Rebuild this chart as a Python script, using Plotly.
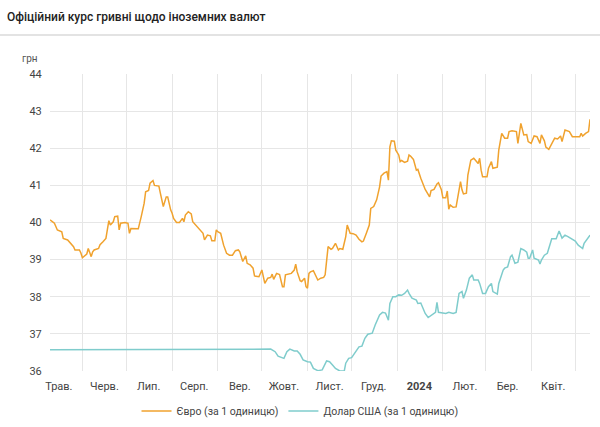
import plotly.graph_objects as go

# ---- data ----
eur_dates = [
 "2023-05-10","2023-05-13","2023-05-15","2023-05-18","2023-05-19","2023-05-22","2023-05-26","2023-05-27","2023-05-30","2023-05-31",
 "2023-06-01","2023-06-04","2023-06-05","2023-06-07","2023-06-08","2023-06-09","2023-06-12","2023-06-13","2023-06-15","2023-06-17",
 "2023-06-19","2023-06-20","2023-06-22","2023-06-23","2023-06-25","2023-06-26","2023-06-27","2023-06-30","2023-07-02","2023-07-03",
 "2023-07-04","2023-07-07","2023-07-09","2023-07-11","2023-07-13","2023-07-14","2023-07-16","2023-07-17","2023-07-19","2023-07-20",
 "2023-07-23","2023-07-24","2023-07-25","2023-07-26","2023-07-28","2023-07-29","2023-07-31","2023-08-01","2023-08-02","2023-08-04",
 "2023-08-06","2023-08-08","2023-08-09","2023-08-10","2023-08-12","2023-08-14","2023-08-15","2023-08-18","2023-08-20","2023-08-22",
 "2023-08-23","2023-08-25","2023-08-27","2023-08-28","2023-08-30","2023-08-31","2023-09-01","2023-09-03","2023-09-05","2023-09-07",
 "2023-09-09","2023-09-11","2023-09-13","2023-09-15","2023-09-16","2023-09-18","2023-09-20","2023-09-21","2023-09-23","2023-09-25",
 "2023-09-26","2023-09-29","2023-10-01","2023-10-03","2023-10-05","2023-10-07","2023-10-08","2023-10-09","2023-10-11","2023-10-13",
 "2023-10-15","2023-10-16","2023-10-17","2023-10-19","2023-10-21","2023-10-23","2023-10-24","2023-10-25","2023-10-27","2023-10-28",
 "2023-10-30","2023-10-31","2023-11-01","2023-11-02","2023-11-03","2023-11-05","2023-11-08","2023-11-10","2023-11-12","2023-11-13",
 "2023-11-15","2023-11-17","2023-11-18","2023-11-20","2023-11-22","2023-11-23","2023-11-25","2023-11-27","2023-11-28","2023-11-30",
 "2023-12-02","2023-12-04","2023-12-06","2023-12-08","2023-12-09","2023-12-11","2023-12-13","2023-12-14","2023-12-16","2023-12-18",
 "2023-12-20","2023-12-21","2023-12-23","2023-12-25","2023-12-26","2023-12-27","2023-12-28","2023-12-30","2023-12-31","2024-01-02",
 "2024-01-03","2024-01-04","2024-01-06","2024-01-08","2024-01-09","2024-01-10","2024-01-12","2024-01-14","2024-01-15","2024-01-17",
 "2024-01-19","2024-01-20","2024-01-23","2024-01-24","2024-01-26","2024-01-28","2024-01-29","2024-01-31","2024-02-01","2024-02-03",
 "2024-02-04","2024-02-05","2024-02-06","2024-02-08","2024-02-10","2024-02-11","2024-02-13","2024-02-14","2024-02-15","2024-02-17",
 "2024-02-18","2024-02-20","2024-02-22","2024-02-25","2024-02-26","2024-02-27","2024-02-28","2024-03-02","2024-03-03","2024-03-05",
 "2024-03-06","2024-03-09","2024-03-10","2024-03-12","2024-03-14","2024-03-16","2024-03-17","2024-03-19","2024-03-22","2024-03-23",
 "2024-03-24","2024-03-25","2024-03-27","2024-03-29","2024-03-30","2024-04-01","2024-04-03","2024-04-05","2024-04-07","2024-04-08",
 "2024-04-10","2024-04-11","2024-04-13","2024-04-15","2024-04-17","2024-04-19","2024-04-21","2024-04-22","2024-04-24","2024-04-27",
 "2024-04-29","2024-05-01","2024-05-04","2024-05-05","2024-05-06","2024-05-08","2024-05-10","2024-05-11",
]
eur_values = [
 40.07,39.98,39.80,39.75,39.57,39.53,39.35,39.26,39.26,39.18,
 39.05,39.15,39.30,39.08,39.21,39.26,39.30,39.40,39.48,39.57,
 40.05,39.93,40.02,40.16,40.17,39.80,39.98,40.00,39.98,39.71,
 39.84,39.84,39.83,40.16,40.52,40.83,40.86,41.06,41.13,41.00,
 40.98,40.79,40.56,40.43,40.69,40.69,40.34,40.25,40.11,40.00,
 40.00,40.11,40.02,40.20,40.29,40.23,40.02,39.89,39.82,39.71,
 39.53,39.66,39.64,39.51,39.51,39.80,39.75,39.71,39.39,39.17,
 39.12,39.12,39.24,39.26,39.21,38.95,39.10,38.90,38.86,38.77,
 38.56,38.54,38.72,38.36,38.50,38.52,38.61,38.47,38.63,38.60,
 38.27,38.27,38.59,38.62,38.63,38.72,38.88,38.67,38.43,38.41,
 38.50,38.27,38.23,38.63,38.67,38.70,38.45,38.50,38.52,38.59,
 39.35,39.28,39.30,39.44,39.26,39.30,39.28,39.62,39.93,39.71,
 39.70,39.66,39.55,39.48,39.50,39.71,39.93,40.38,40.43,40.61,
 40.96,41.25,41.33,41.37,41.14,42.04,42.20,42.19,41.95,41.82,
 41.64,41.67,41.62,41.65,41.82,41.79,41.70,41.41,41.43,41.19,
 41.00,40.89,40.69,40.86,40.89,41.04,41.07,40.88,40.67,40.67,
 40.85,40.36,40.47,40.41,40.42,40.65,41.10,40.88,40.77,40.79,
 41.28,41.68,41.73,41.59,41.73,41.41,41.23,41.23,41.46,41.64,
 41.46,41.49,41.95,42.40,42.27,42.27,42.45,42.47,42.45,42.13,
 42.40,42.67,42.36,42.37,42.18,42.13,42.33,42.31,42.13,42.36,
 42.20,42.03,41.97,42.13,42.27,42.25,42.33,42.18,42.49,42.45,
 42.31,42.31,42.31,42.40,42.33,42.40,42.45,42.78,
]

usd_dates = [
 "2023-05-10","2023-10-02","2023-10-07","2023-10-10","2023-10-12","2023-10-16","2023-10-18","2023-10-20","2023-10-23","2023-10-25",
 "2023-10-27","2023-10-29","2023-11-01","2023-11-03","2023-11-05","2023-11-08","2023-11-11","2023-11-14","2023-11-16","2023-11-18",
 "2023-11-20","2023-11-23","2023-11-26","2023-11-27","2023-11-29","2023-12-01","2023-12-04","2023-12-06","2023-12-08","2023-12-10",
 "2023-12-12","2023-12-15","2023-12-17","2023-12-20","2023-12-22","2023-12-24","2023-12-26","2023-12-27","2023-12-29","2023-12-31",
 "2024-01-02","2024-01-04","2024-01-06","2024-01-08","2024-01-09","2024-01-11","2024-01-14","2024-01-15","2024-01-17","2024-01-19",
 "2024-01-20","2024-01-22","2024-01-25","2024-01-27","2024-01-28","2024-01-29","2024-02-03","2024-02-05","2024-02-08","2024-02-10",
 "2024-02-12","2024-02-14","2024-02-15","2024-02-17","2024-02-19","2024-02-21","2024-02-22","2024-02-25","2024-02-26","2024-02-28",
 "2024-03-01","2024-03-03","2024-03-05","2024-03-06","2024-03-09","2024-03-10","2024-03-13","2024-03-14","2024-03-16","2024-03-18",
 "2024-03-19","2024-03-21","2024-03-23","2024-03-25","2024-03-27","2024-03-29","2024-03-30","2024-03-31","2024-04-02","2024-04-03",
 "2024-04-06","2024-04-07","2024-04-08","2024-04-10","2024-04-12","2024-04-14","2024-04-15","2024-04-18","2024-04-20","2024-04-22",
 "2024-04-24","2024-04-26","2024-04-28","2024-05-01","2024-05-03","2024-05-06","2024-05-07","2024-05-09","2024-05-11",
]
usd_values = [
 36.57,36.57,36.59,36.52,36.40,36.34,36.52,36.59,36.54,36.54,
 36.45,36.30,36.25,36.24,36.07,36.01,36.03,36.27,36.25,36.16,
 36.07,36.00,36.00,36.21,36.34,36.36,36.52,36.65,36.67,36.88,
 36.99,37.02,37.24,37.51,37.58,37.56,37.37,37.82,38.00,38.00,
 38.05,38.04,38.09,38.18,38.09,37.96,37.91,37.82,37.83,37.64,
 37.55,37.44,37.53,37.58,37.85,37.58,37.55,37.58,37.55,37.58,
 38.09,38.14,37.96,38.18,38.50,38.59,38.45,38.45,38.36,38.09,
 38.09,38.27,38.36,38.14,38.07,38.36,38.72,38.77,38.80,39.08,
 39.12,38.90,38.93,39.30,39.26,39.20,39.04,39.04,39.26,39.04,
 38.99,38.88,38.99,39.12,39.17,39.48,39.56,39.56,39.77,39.58,
 39.66,39.62,39.57,39.50,39.39,39.30,39.44,39.55,39.66,
]

month_starts = ["2023-06-01","2023-07-01","2023-08-01","2023-09-01","2023-10-01","2023-11-01",
                "2023-12-01","2024-01-01","2024-02-01","2024-03-01","2024-04-01","2024-05-01"]
label_dates = ["2023-05-16","2023-06-16","2023-07-16","2023-08-16","2023-09-16","2023-10-16",
               "2023-11-16","2023-12-16","2024-01-16","2024-02-16","2024-03-16","2024-04-16"]
label_text = ["Трав.","Черв.","Лип.","Серп.","Вер.","Жовт.","Лист.","Груд.","<b>2024</b>","Лют.","Бер.","Квіт."]
y_ticks = [36, 37, 38, 39, 40, 41, 42, 43, 44]

EUR_COLOR = "#f0a22e"
USD_COLOR = "#7fcccc"
GRID = "#e6e6e6"
FONT = "Roboto"

fig = go.Figure()
fig.add_trace(go.Scatter(x=eur_dates, y=eur_values, mode="lines", name="Євро (за 1 одиницю)",
                         line=dict(color=EUR_COLOR, width=1.5)))
fig.add_trace(go.Scatter(x=usd_dates, y=usd_values, mode="lines", name="Долар США (за 1 одиницю)",
                         line=dict(color=USD_COLOR, width=1.5)))

fig.update_layout(
    width=600, height=427,
    margin=dict(l=50, r=10, t=74, b=56, autoexpand=False),
    paper_bgcolor="white", plot_bgcolor="white",
    font=dict(family=FONT, size=11, color="#444444"),
    title=dict(text="Офіційний курс гривні щодо іноземних валют", x=7 / 600, xanchor="left",
               y=1 - 17 / 427, yanchor="middle",
               font=dict(family=FONT, size=12, color="#222222", weight=500)),
    showlegend=True,
    legend=dict(orientation="h", x=0.5, xanchor="center", xref="container",
                y=1 - 411 / 427, yanchor="middle", yref="container",
                font=dict(family=FONT, size=10.5, color="#444444"), itemwidth=30,
                bgcolor="rgba(0,0,0,0)"),
    xaxis=dict(
        type="date", range=["2023-05-10", "2024-05-11"], automargin=False,
        tickmode="array", tickvals=label_dates, ticktext=label_text,
        showgrid=False, zeroline=False, showline=False,
        ticks="outside", ticklen=5, tickcolor="rgba(0,0,0,0)",
        tickfont=dict(family=FONT, size=11, color="#444444"),
        minor=dict(tickmode="array", tickvals=month_starts, showgrid=True, gridcolor=GRID,
                   gridwidth=1, ticks=""),
        fixedrange=True,
    ),
    yaxis=dict(
        range=[36, 44], tickmode="array", tickvals=y_ticks, automargin=False,
        showgrid=True, gridcolor=GRID, gridwidth=1, zeroline=False, showline=False,
        ticks="outside", ticklen=5, tickcolor="rgba(0,0,0,0)",
        tickfont=dict(family=FONT, size=11, color="#444444"),
        fixedrange=True,
    ),
    shapes=[dict(type="line", xref="paper", yref="paper",
                 x0=-50 / 540, x1=550 / 540, y0=(371 - 35) / 297, y1=(371 - 35) / 297,
                 line=dict(color="#e3e3e3", width=2))],
    annotations=[dict(text="грн", xref="paper", yref="paper", x=-20 / 540, y=(371 - 58) / 297,
                      showarrow=False, xanchor="center", yanchor="middle",
                      font=dict(family=FONT, size=10, color="#555555"))],
)

fig.write_html("out.html",
               config={"displayModeBar": False},
               post_script="document.body.style.margin='0';document.body.style.padding='0';")
